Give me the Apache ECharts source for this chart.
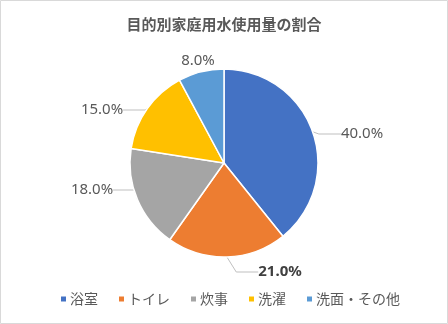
<!DOCTYPE html>
<html><head><meta charset="utf-8">
<script src="https://cdn.jsdelivr.net/npm/echarts@6/dist/echarts.min.js"></script>
<style>html,body{margin:0;padding:0;background:#fff}#c{width:448px;height:324px}</style>
</head><body><div id="c"></div>
<script>
const titleText = '目的別家庭用水使用量の割合';
const categories = ['浴室', 'トイレ', '炊事', '洗濯', '洗面・その他'];
const values = [40.0, 21.0, 18.0, 15.0, 8.0];
const colors = ['#4472C4', '#ED7D31', '#A5A5A5', '#FFC000', '#5B9BD5'];
const boldIndex = 1;

// label anchor placement (layout only, not data)
const labelAnchors = [[362, 134], [280, 272], [92, 190], [102, 110], [198, 61]];

const font = '"Noto Sans", "Noto Sans CJK JP", sans-serif';
const chart = echarts.init(document.getElementById('c'));
chart.setOption({
  animation: false,
  color: colors,
  graphic: [{type:'rect', shape:{x:0.5,y:0.5,width:447,height:323}, style:{fill:'none', stroke:'#d9d9d9', lineWidth:1}, silent:true}],
  title: {text: titleText, left: 'center', top: 12,
    textStyle: {fontSize: 15, fontWeight: 'bold', color: '#595959', fontFamily: '"Noto Sans CJK JP", sans-serif'}},
  legend: {bottom: 13, left: 54, itemWidth: 7, itemHeight: 7, itemGap: 19, icon: 'rect',
    textStyle: {fontSize: 14, color: '#595959', fontFamily: '"Noto Sans CJK JP", sans-serif', padding: [0,0,0,-2]}},
  series: [{
    type: 'pie', center: [224, 163], radius: 94, startAngle: 90, clockwise: true,
    itemStyle: {borderColor: '#fff', borderWidth: 1.5},
    label: {show: true, position: 'outside', formatter: p => p.value.toFixed(1) + '%',
      fontSize: 15, color: '#595959', fontFamily: font},
    labelLine: {show: true, length: 12, length2: 22, lineStyle: {color: '#bfbfbf', width: 1}},
    labelLayout: p => ({x: labelAnchors[p.dataIndex][0], y: labelAnchors[p.dataIndex][1], align: 'center', verticalAlign: 'middle'}),
    data: categories.map((n, i) => ({name: n, value: values[i],
      label: i === boldIndex ? {fontWeight: 'bold', color: '#404040'} : {},
      labelLine: i === 4 ? {show: false} : {}}))
  }]
});
</script></body></html>
